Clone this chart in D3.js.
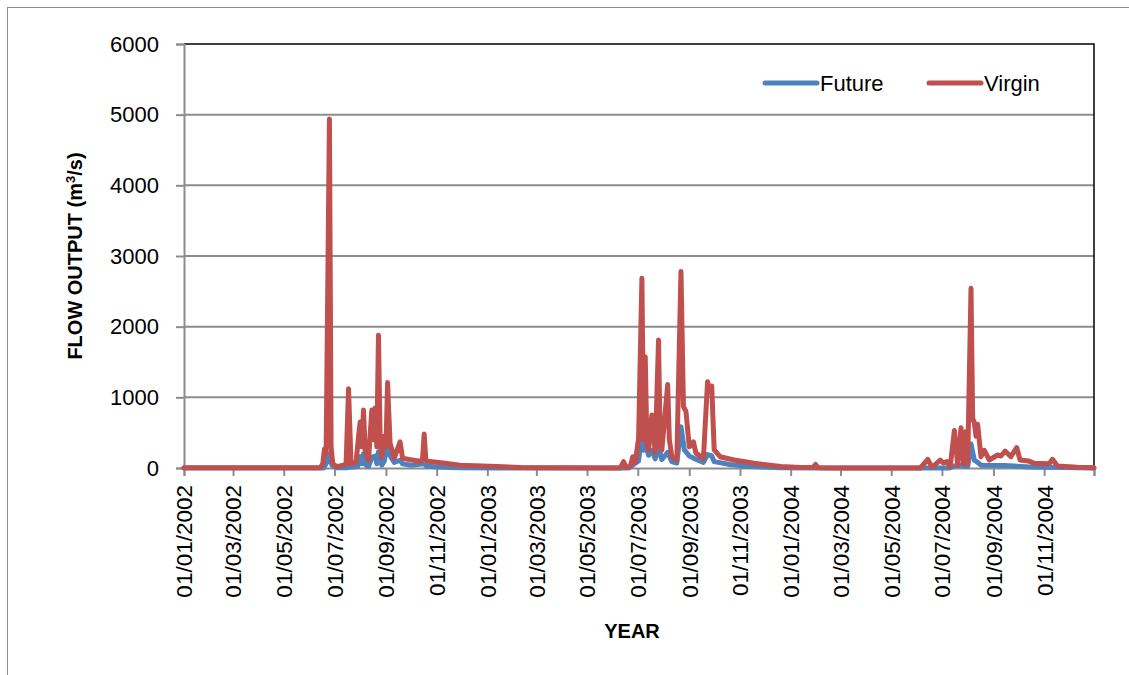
<!DOCTYPE html>
<html>
<head>
<meta charset="utf-8">
<script src="https://cdn.jsdelivr.net/npm/d3@7"></script>
<style>
  body { margin: 0; background: #fff; }
  text { font-family: "Liberation Sans", Arial, sans-serif; fill: #000; }
  .axisTitle { font-weight: bold; font-size: 20px; }
</style>
</head>
<body>
<div id="chart"></div>
<script>

// Virgin flow (m3/s)
var virgin = [
  ["2002-01-01",2],["2002-06-14",5],["2002-06-17",60],["2002-06-19",270],["2002-06-21",200],
  ["2002-06-25",4940],["2002-06-27",300],["2002-06-29",60],["2002-07-04",20],["2002-07-15",50],
  ["2002-07-18",1120],["2002-07-21",60],["2002-07-27",80],["2002-07-30",440],["2002-08-01",650],
  ["2002-08-03",300],["2002-08-05",820],["2002-08-07",250],["2002-08-11",110],["2002-08-15",820],
  ["2002-08-17",400],["2002-08-19",850],["2002-08-21",300],["2002-08-23",1880],["2002-08-25",400],
  ["2002-08-27",150],["2002-08-30",450],["2002-09-01",300],["2002-09-03",1210],["2002-09-04",900],
  ["2002-09-06",350],["2002-09-11",140],["2002-09-18",370],["2002-09-21",140],["2002-09-29",120],
  ["2002-10-12",95],["2002-10-15",120],["2002-10-17",480],["2002-10-19",120],["2002-10-21",95],
  ["2002-11-09",70],["2002-11-29",40],["2003-01-04",25],["2003-02-10",8],["2003-03-15",2],
  ["2003-06-10",0],["2003-06-14",90],["2003-06-17",10],["2003-06-22",20],["2003-06-25",160],
  ["2003-06-28",80],["2003-07-02",420],["2003-07-06",2685],["2003-07-08",400],["2003-07-10",1575],
  ["2003-07-12",350],["2003-07-14",255],["2003-07-18",750],["2003-07-22",220],["2003-07-26",1810],
  ["2003-07-28",350],["2003-07-30",255],["2003-08-06",1180],["2003-08-08",400],["2003-08-11",160],
  ["2003-08-17",113],["2003-08-22",2780],["2003-08-25",870],["2003-08-28",800],["2003-09-01",300],
  ["2003-09-06",370],["2003-09-09",210],["2003-09-18",137],["2003-09-23",1220],["2003-09-25",1100],
  ["2003-09-28",1160],["2003-10-01",255],["2003-10-08",160],["2003-10-25",113],["2003-11-18",66],
  ["2003-12-20",20],["2004-01-13",8],["2004-01-28",10],["2004-01-31",50],["2004-02-03",5],
  ["2004-03-01",1],["2004-06-05",0],["2004-06-14",123],["2004-06-19",10],["2004-06-29",113],
  ["2004-07-03",70],["2004-07-07",90],["2004-07-11",20],["2004-07-16",530],["2004-07-20",40],
  ["2004-07-24",570],["2004-07-27",60],["2004-07-30",515],["2004-08-01",60],["2004-08-05",2543],
  ["2004-08-07",700],["2004-08-09",640],["2004-08-11",450],["2004-08-13",620],["2004-08-17",160],
  ["2004-08-21",250],["2004-08-27",113],["2004-09-06",184],["2004-09-10",170],["2004-09-15",240],
  ["2004-09-22",160],["2004-09-29",290],["2004-10-03",113],["2004-10-13",100],["2004-10-20",66],
  ["2004-11-07",60],["2004-11-11",123],["2004-11-17",28],["2004-12-11",10],["2004-12-31",5]
];

// Future flow (m3/s)
var future = [
  ["2002-01-01",0],["2002-06-18",0],["2002-06-22",80],["2002-06-25",200],["2002-06-28",40],
  ["2002-07-04",5],["2002-07-17",5],["2002-07-18",90],["2002-07-20",10],["2002-07-29",20],
  ["2002-07-30",110],["2002-08-01",160],["2002-08-03",60],["2002-08-05",200],["2002-08-08",40],
  ["2002-08-11",20],["2002-08-15",150],["2002-08-19",170],["2002-08-21",60],["2002-08-23",230],
  ["2002-08-27",40],["2002-08-30",100],["2002-09-03",380],["2002-09-06",170],["2002-09-11",80],
  ["2002-09-18",110],["2002-09-21",60],["2002-10-01",40],["2002-10-17",60],["2002-10-20",25],
  ["2002-11-09",10],["2002-11-29",3],["2003-01-15",0],["2003-06-20",0],["2003-07-02",100],
  ["2003-07-06",500],["2003-07-08",250],["2003-07-10",380],["2003-07-14",180],["2003-07-18",250],
  ["2003-07-22",130],["2003-07-26",300],["2003-07-30",120],["2003-08-06",220],["2003-08-11",90],
  ["2003-08-17",70],["2003-08-22",585],["2003-08-26",260],["2003-09-01",170],["2003-09-06",140],
  ["2003-09-18",80],["2003-09-23",190],["2003-09-28",170],["2003-10-01",90],["2003-10-20",50],
  ["2003-11-10",25],["2003-12-20",3],["2004-01-31",0],["2004-07-10",0],["2004-07-16",30],
  ["2004-07-24",40],["2004-08-01",20],["2004-08-05",340],["2004-08-09",110],["2004-08-13",80],
  ["2004-08-17",40],["2004-09-15",35],["2004-10-15",15],["2004-12-31",0]
];

var yTicks = [0, 1000, 2000, 3000, 4000, 5000, 6000];
var xTicks = ["2002-01-01","2002-03-01","2002-05-01","2002-07-01","2002-09-01","2002-11-01",
              "2003-01-01","2003-03-01","2003-05-01","2003-07-01","2003-09-01","2003-11-01",
              "2004-01-01","2004-03-01","2004-05-01","2004-07-01","2004-09-01","2004-11-01"];
var xEnd = "2004-12-31";

var seriesNames = ["Future", "Virgin"];
var seriesColors = ["#4F81BD", "#C0504D"];

var width = 1129, height = 675;
var margin = {left: 184, right: 35, top: 44, bottom: 207};

var parse = d3.timeParse("%Y-%m-%d");
var fmt = d3.timeFormat("%d/%m/%Y");

var svg = d3.select("#chart").append("svg")
  .attr("width", width)
  .attr("height", height);

// outer chart frame (only top and left edges fall inside the picture)
svg.append("rect")
  .attr("x", 7.5).attr("y", 7.5)
  .attr("width", 1300).attr("height", 1000)
  .attr("fill", "none")
  .attr("stroke", "#8c8c8c")
  .attr("stroke-width", 1);

var x = d3.scaleTime()
  .domain([parse(xTicks[0]), parse(xEnd)])
  .range([margin.left, width - margin.right]);

var y = d3.scaleLinear()
  .domain([0, 6000])
  .range([height - margin.bottom, margin.top]);

// gridlines
svg.append("g")
  .selectAll("line")
  .data(yTicks.slice(1, -1))
  .enter().append("line")
  .attr("x1", x.range()[0]).attr("x2", x.range()[1])
  .attr("y1", function(d){ return y(d) }).attr("y2", function(d){ return y(d) })
  .attr("stroke", "#8c8c8c")
  .attr("stroke-width", 2);

// plot area border: black top and right
svg.append("path")
  .attr("d", "M" + x.range()[0] + "," + y(6000) + "H" + x.range()[1] + "V" + y(0))
  .attr("fill", "none")
  .attr("stroke", "#000")
  .attr("stroke-width", 1.5);

// y axis
var yAxis = d3.axisLeft(y)
  .tickValues(yTicks)
  .tickSize(8)
  .tickPadding(17)
  .tickFormat(d3.format("d"));

var gy = svg.append("g")
  .attr("transform", "translate(" + margin.left + ",0)")
  .call(yAxis);
gy.selectAll("text").style("font-size", "22px").style("font-family", "Liberation Sans, Arial, sans-serif");

// x axis
var xAxis = d3.axisBottom(x)
  .tickValues(xTicks.map(parse).concat([parse(xEnd)]))
  .tickSize(8)
  .tickFormat(function(d){ return fmt(d) == fmt(parse(xEnd)) ? "" : fmt(d) });

var gx = svg.append("g")
  .attr("transform", "translate(0," + y(0) + ")")
  .call(xAxis);
gx.selectAll("text")
  .style("font-size", "22.5px")
  .style("font-family", "Liberation Sans, Arial, sans-serif")
  .attr("text-anchor", "end")
  .attr("x", 0).attr("y", 0)
  .attr("dy", "0.35em")
  .attr("transform", "translate(0,17) rotate(-90)");

svg.selectAll(".domain, .tick line")
  .attr("stroke", "#8c8c8c")
  .attr("stroke-width", 2);

// lines
var line = d3.line()
  .x(function(d){ return x(parse(d[0])) })
  .y(function(d){ return y(d[1]) });

[future, virgin].forEach(function(s, i) {
  svg.append("path")
    .datum(s)
    .attr("d", line)
    .attr("fill", "none")
    .attr("stroke", seriesColors[i])
    .attr("stroke-width", 5)
    .attr("stroke-linejoin", "round")
    .attr("stroke-linecap", "round");
});

// legend
var legendX = [765, 929];
seriesNames.forEach(function(name, i) {
  svg.append("line")
    .attr("x1", legendX[i]).attr("x2", legendX[i] + 52)
    .attr("y1", 83).attr("y2", 83)
    .attr("stroke", seriesColors[i])
    .attr("stroke-width", 5)
    .attr("stroke-linecap", "round");
  svg.append("text")
    .attr("x", legendX[i] + 55)
    .attr("y", 83)
    .attr("dy", "0.35em")
    .style("font-size", "22px")
    .text(name);
});

// axis titles
svg.append("text")
  .attr("class", "axisTitle")
  .attr("text-anchor", "middle")
  .attr("transform", "translate(82,256) rotate(-90)")
  .html("FLOW OUTPUT (m<tspan dy='-7' font-size='13px'>3</tspan><tspan dy='7'>/s)</tspan>");

svg.append("text")
  .attr("class", "axisTitle")
  .attr("text-anchor", "middle")
  .attr("x", 632)
  .attr("y", 638)
  .text("YEAR");

</script>
</body>
</html>
